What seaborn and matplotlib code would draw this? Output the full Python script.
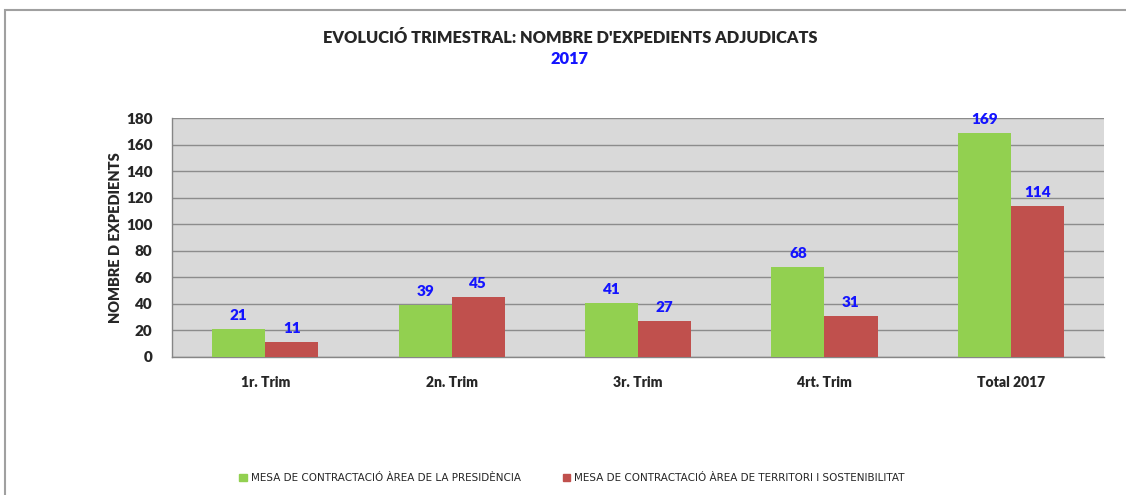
import pandas as pd
import matplotlib.pyplot as plt
import seaborn as sns
from matplotlib.patches import Rectangle
from matplotlib.ticker import MultipleLocator, FixedLocator


# Dades
trimestres = ["1r. Trim", "2n. Trim", "3r. Trim", "4rt. Trim", "Total 2017"]
mesa_presidencia = [21, 39, 41, 68, 169]
mesa_territori = [11, 45, 27, 31, 114]
mesas = [
    "MESA DE CONTRACTACIÓ ÀREA DE LA PRESIDÈNCIA",
    "MESA DE CONTRACTACIÓ ÀREA DE TERRITORI I SOSTENIBILITAT",
]

df = pd.DataFrame({
    "trimestre": trimestres * 2,
    "valor": mesa_presidencia + mesa_territori,
    "mesa": [mesas[0]] * len(trimestres) + [mesas[1]] * len(trimestres),
})

sns.set_style("white")
plt.rcParams["font.family"] = ["Lato", "DejaVu Sans"]

fig = plt.figure(figsize=(11.26, 4.95), dpi=100)
ax = fig.add_axes([0.1528, 0.2788, 0.8277, 0.4828])
ax.set_facecolor("#D9D9D9")

sns.barplot(
    data=df, x="trimestre", y="valor", hue="mesa",
    palette=["#92D050", "#C0504D"], saturation=1,
    width=0.57, gap=0, linewidth=0, ax=ax, legend=False, zorder=3,
)

# Etiquetes de valor
for cont in ax.containers:
    for bar in cont:
        h = bar.get_height()
        ax.annotate(
            f"{h:.0f}", (bar.get_x() + bar.get_width() / 2, h),
            xytext=(0, 5), textcoords="offset points",
            ha="center", va="bottom", color="#1414FF",
            fontsize=11, fontweight="heavy", zorder=4,
        )

# Eixos
ax.set_ylim(0, 180)
ax.set_xlim(-0.5, len(trimestres) - 0.5)
ax.yaxis.set_major_locator(MultipleLocator(20))
ax.grid(axis="y", color="#8C8C8C", linewidth=1, zorder=1)
ax.set_axisbelow(True)

ax.xaxis.set_minor_locator(FixedLocator([i - 0.5 for i in range(len(trimestres) + 1)]))
ax.tick_params(axis="x", which="major", length=0, pad=14)
ax.tick_params(axis="x", which="minor", length=5, color="#868686", width=1)
ax.tick_params(axis="y", length=4, color="#868686", width=1, pad=10)
for lab in ax.get_xticklabels():
    lab.set_fontweight("heavy")
    lab.set_fontsize(10)
for lab in ax.get_yticklabels():
    lab.set_fontweight("heavy")
    lab.set_fontsize(11)

for side in ["top", "right"]:
    ax.spines[side].set_visible(False)
for side in ["left", "bottom"]:
    ax.spines[side].set_color("#868686")
    ax.spines[side].set_linewidth(1)

ax.set_xlabel("")
ax.set_ylabel("NOMBRE D EXPEDIENTS", fontsize=10.5, fontweight="heavy", labelpad=3)

# Títol
fig.text(0.506, 0.923, "EVOLUCIÓ TRIMESTRAL: NOMBRE D'EXPEDIENTS ADJUDICATS",
         ha="center", va="center", fontsize=11.8, fontweight="heavy")
fig.text(0.506, 0.881, "2017", ha="center", va="center",
         fontsize=11.8, fontweight="heavy", color="#1414FF")

# Llegenda
handles = [Rectangle((0, 0), 1, 1, color=c) for c in ["#92D050", "#C0504D"]]
fig.legend(
    handles, mesas, loc="center", bbox_to_anchor=(0.508, 0.034), ncol=2,
    frameon=False, handlelength=0.7, handleheight=0.7,
    handletextpad=0.4, columnspacing=4,
    prop={"family": ["Liberation Sans Narrow", "DejaVu Sans"], "size": 7.5},
)

# Marc del gràfic
fig.patches.append(Rectangle((0.0045, -0.1), 1.2, 1.08, transform=fig.transFigure,
                             fill=False, edgecolor="#A0A0A0", linewidth=1.5))

fig.savefig("out.png", dpi=100)
